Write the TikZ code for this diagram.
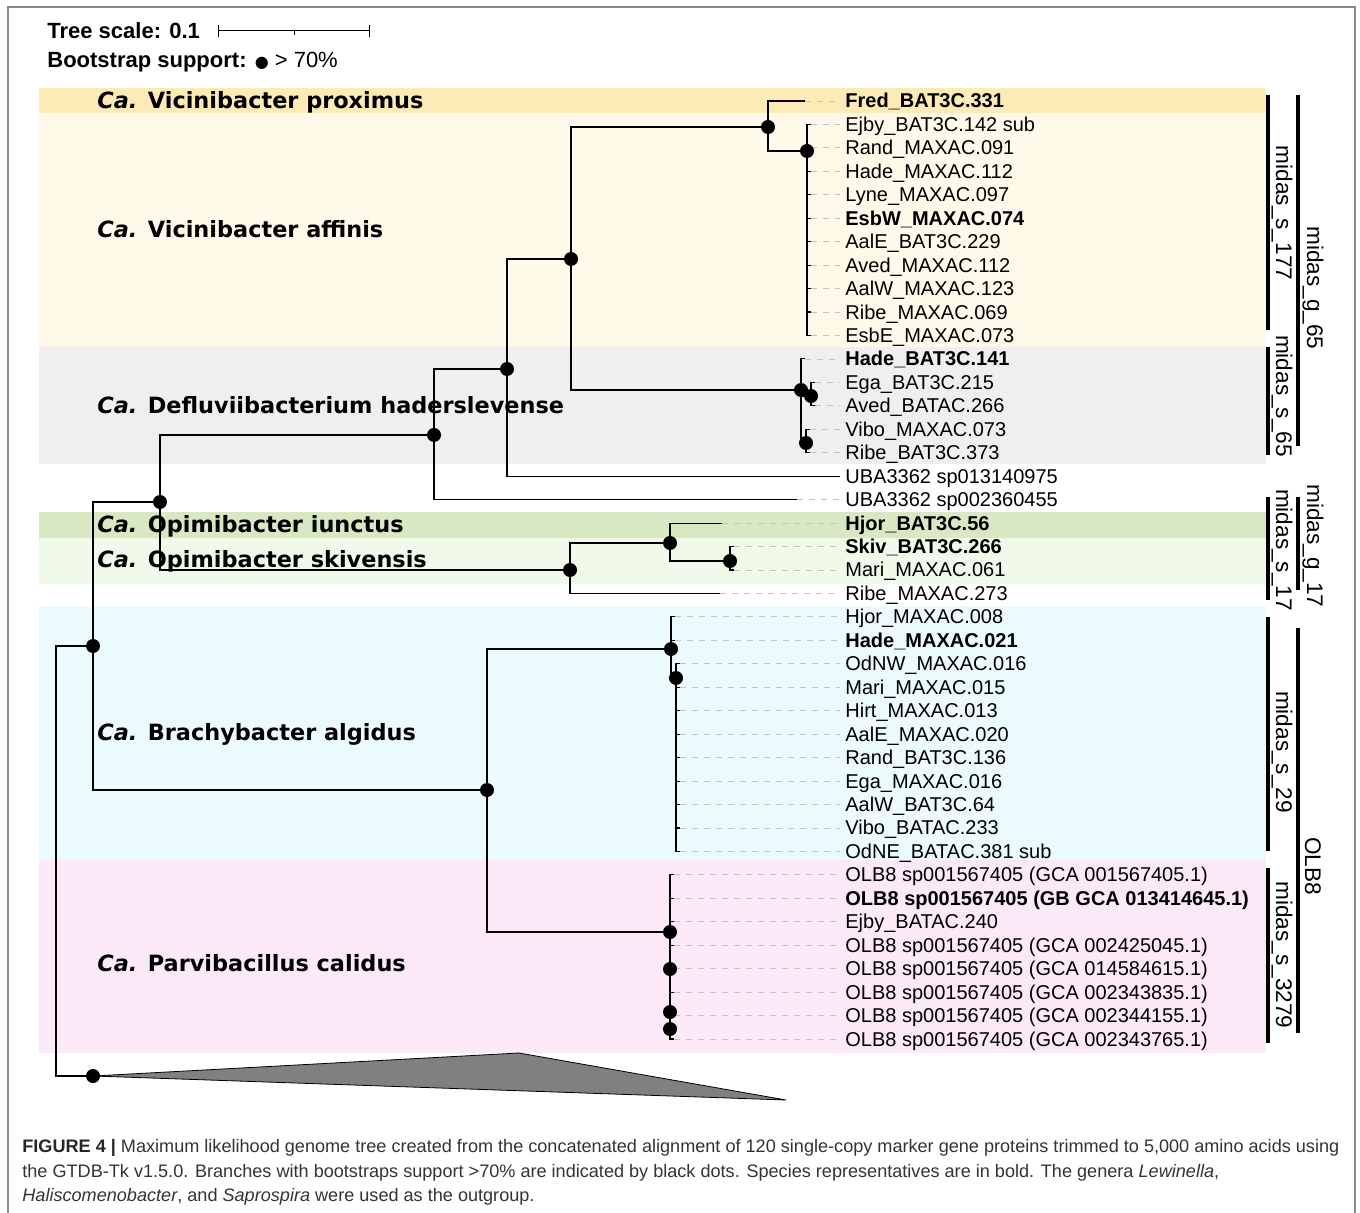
\documentclass[tikz,border=0pt]{standalone}
\usepackage{fontspec}
\setmainfont{Liberation Sans}
\newfontfamily\dejavu{DejaVu Sans}
\definecolor{cprox}{HTML}{FCEBB6}
\definecolor{caff}{HTML}{FEF9E8}
\definecolor{cdefl}{HTML}{EFEFEF}
\definecolor{ciunc}{HTML}{D7E8C2}
\definecolor{cskiv}{HTML}{F1FAE9}
\definecolor{cbrach}{HTML}{EBFAFD}
\definecolor{cparv}{HTML}{FCE9F7}
\definecolor{frameg}{HTML}{8A8A8A}
\definecolor{leadg}{HTML}{C4C4C4}
\definecolor{capg}{HTML}{333333}
\tikzset{
  band/.style={draw=none},
  branch/.style={draw=black, line width=0.55pt},
  leader/.style={draw=leadg, line width=0.4pt, dash pattern=on 3pt off 3pt},
  leaf/.style={anchor=base west, inner xsep=2.5pt, inner ysep=0pt, font=\fontsize{10}{12}\selectfont},
  clade/.style={anchor=base west, inner sep=0pt, font=\dejavu\bfseries\fontsize{11.2}{13}\selectfont},
  midas/.style={rotate=-90, inner sep=0pt, font=\fontsize{11.3}{13}\selectfont},
  gbar/.style={line width=1.6pt, draw=black},
  boot/.style={circle, fill=black, inner sep=0pt, minimum size=7pt},
  capline/.style={anchor=base west, inner sep=0pt, text=capg, font=\fontsize{9.05}{11}\selectfont},
}
\begin{document}
\begin{tikzpicture}[x=0.5pt, y=-0.5pt]
\useasboundingbox (0,0) rectangle (1360,1213);
% frame
\draw[frameg, line width=0.8pt] (8,1213) -- (8,7) -- (1355,7) -- (1355,1213);
% bands
\fill[cprox]  (39,88)  rectangle (1266,113);
\fill[caff]   (39,113) rectangle (1266,347);
\fill[cdefl]  (39,347) rectangle (1266,464);
\fill[ciunc]  (39,512) rectangle (1266,538);
\fill[cskiv]  (39,538) rectangle (1266,584);
\fill[cbrach] (39,606) rectangle (1266,860);
\fill[cparv]  (39,860) rectangle (1266,1053);
% header
\node[anchor=base west, inner sep=0pt, font=\bfseries\fontsize{11}{13}\selectfont] (ts) at (47,39) {Tree scale: 0.1};
\coordinate (sb1) at (218,31);
\coordinate (sb2) at (369,31);
\draw[line width=0.5pt] (sb1) -- (sb2);
\draw[line width=0.5pt] (218,25) -- (218,37) (369,25) -- (369,37) (294,31) -- (294,35);
\node[anchor=base west, inner sep=0pt, font=\fontsize{11}{13}\selectfont] (bs) at (47,68) {\textbf{Bootstrap support:} {\dejavu\fontsize{8}{13}\selectfont ●} {>} 70\%};
% clade labels
\node[clade] (c1) at (97,109) {\textit{Ca.} Vicinibacter proximus};
\node[clade] (c2) at (97,238) {\textit{Ca.} Vicinibacter affinis};
\node[clade] (c3) at (97,414) {\textit{Ca.} Defluviibacterium haderslevense};
\node[clade] (c4) at (97,533) {\textit{Ca.} Opimibacter iunctus};
\node[clade] (c5) at (97,568) {\textit{Ca.} Opimibacter skivensis};
\node[clade] (c6) at (97,740) {\textit{Ca.} Brachybacter algidus};
\node[clade] (c7) at (97,971) {\textit{Ca.} Parvibacillus calidus};
% leaves
\foreach \i/\tx/\t in {
 1/805/{\textbf{Fred\_BAT3C.331}},
 2/811/{Ejby\_BAT3C.142 sub},
 3/811/{Rand\_MAXAC.091},
 4/811/{Hade\_MAXAC.112},
 5/811/{Lyne\_MAXAC.097},
 6/811/{\textbf{EsbW\_MAXAC.074}},
 7/811/{AalE\_BAT3C.229},
 8/811/{Aved\_MAXAC.112},
 9/811/{AalW\_MAXAC.123},
 10/811/{Ribe\_MAXAC.069},
 11/811/{EsbE\_MAXAC.073},
 12/805/{\textbf{Hade\_BAT3C.141}},
 13/815/{Ega\_BAT3C.215},
 14/815/{Aved\_BATAC.266},
 15/810/{Vibo\_MAXAC.073},
 16/810/{Ribe\_BAT3C.373},
 17/840/{UBA3362 sp013140975},
 18/797/{UBA3362 sp002360455},
 19/722/{\textbf{Hjor\_BAT3C.56}},
 20/734/{\textbf{Skiv\_BAT3C.266}},
 21/734/{Mari\_MAXAC.061},
 22/720/{Ribe\_MAXAC.273},
 23/675/{Hjor\_MAXAC.008},
 24/675/{\textbf{Hade\_MAXAC.021}},
 25/680/{OdNW\_MAXAC.016},
 26/680/{Mari\_MAXAC.015},
 27/680/{Hirt\_MAXAC.013},
 28/680/{AalE\_MAXAC.020},
 29/680/{Rand\_BAT3C.136},
 30/680/{Ega\_MAXAC.016},
 31/680/{AalW\_BAT3C.64},
 32/680/{Vibo\_BATAC.233},
 33/680/{OdNE\_BATAC.381 sub},
 34/674/{OLB8 sp001567405 (GCA 001567405.1)},
 35/674/{\textbf{OLB8 sp001567405 (GB GCA 013414645.1)}},
 36/674/{Ejby\_BATAC.240},
 37/674/{OLB8 sp001567405 (GCA 002425045.1)},
 38/674/{OLB8 sp001567405 (GCA 014584615.1)},
 39/674/{OLB8 sp001567405 (GCA 002343835.1)},
 40/674/{OLB8 sp001567405 (GCA 002344155.1)},
 41/674/{OLB8 sp001567405 (GCA 002343765.1)}}{
  \pgfmathsetmacro{\yy}{101+(\i-1)*23.45}
  \coordinate (t\i) at (\tx,\yy);
  \node[leaf] (l\i) at (840,\yy+7) {\t};
  \draw[leader] (t\i) -- (t\i -| l\i.west);
}
% internal nodes
\coordinate (R)  at (56,861);
\coordinate (A)  at (93,646);
\coordinate (Out) at (93,1076);
\coordinate (B)  at (160,502);
\coordinate (C)  at (434,435);
\coordinate (D)  at (507,369);
\coordinate (E)  at (571,259);
\coordinate (F)  at (768,127);
\coordinate (G)  at (807,151);
\coordinate (H)  at (801,390);
\coordinate (H2) at (811,396);
\coordinate (H3) at (806,443);
\coordinate (I)  at (570,570);
\coordinate (J)  at (670,543);
\coordinate (K)  at (730,561);
\coordinate (L)  at (487,790);
\coordinate (M)  at (671,649);
\coordinate (N)  at (676,678);
\coordinate (O)  at (670,932);
\coordinate (O2) at (670,969);
\coordinate (O3) at (670,1012);
\coordinate (O4) at (670,1029);
\coordinate (tri1) at (519,1053);
\coordinate (tri2) at (786,1100);
% outgroup triangle
\filldraw[fill=black!50, draw=black, line width=0.4pt] (Out) -- (tri1) -- (tri2) -- cycle;
% branches
\draw[branch] (R) |- (A);
\draw[branch] (R) |- (Out);
\draw[branch] (A) |- (B);
\draw[branch] (A) |- (L);
\draw[branch] (B) |- (C);
\draw[branch] (B) |- (I);
\draw[branch] (C) |- (D);
\draw[branch] (C) |- (t18);
\draw[branch] (D) |- (E);
\draw[branch] (D) |- (t17);
\draw[branch] (E) |- (F);
\draw[branch] (E) |- (H);
\draw[branch] (F) |- (t1);
\draw[branch] (F) |- (G);
\foreach \k in {2,...,11} {\draw[branch] (G) |- (t\k);}
\draw[branch] (H) |- (t12);
\draw[branch] (H) |- (H2);
\draw[branch] (H) |- (H3);
\draw[branch] (H2) |- (t13);
\draw[branch] (H2) |- (t14);
\draw[branch] (H3) |- (t15);
\draw[branch] (H3) |- (t16);
\draw[branch] (I) |- (J);
\draw[branch] (I) |- (t22);
\draw[branch] (J) |- (t19);
\draw[branch] (J) |- (K);
\draw[branch] (K) |- (t20);
\draw[branch] (K) |- (t21);
\draw[branch] (L) |- (M);
\draw[branch] (L) |- (O);
\draw[branch] (M) |- (t23);
\draw[branch] (M) |- (t24);
\draw[branch] (M) |- (N);
\foreach \k in {25,...,33} {\draw[branch] (N) |- (t\k);}
\draw[branch] (O) |- (t34);
\draw[branch] (O) |- (t35);
\draw[branch] (O) |- (t36);
\draw[branch] (O) -- (O2);
\draw[branch] (O2) |- (t37);
\draw[branch] (O2) |- (t38);
\draw[branch] (O2) -- (O3);
\draw[branch] (O3) |- (t39);
\draw[branch] (O3) -- (O4);
\draw[branch] (O4) |- (t40);
\draw[branch] (O4) |- (t41);
% bootstrap dots
\foreach \p in {A,Out,B,C,D,E,F,G,H,H2,H3,I,J,K,L,M,N,O,O2,O3,O4} {\node[boot] (dot\p) at (\p) {};}
% group bars and labels
\coordinate (s177a) at (1268,95);   \coordinate (s177b) at (1268,330);
\coordinate (s65a)  at (1268,347);  \coordinate (s65b)  at (1268,455);
\coordinate (s17a)  at (1268,497);  \coordinate (s17b)  at (1268,600);
\coordinate (s29a)  at (1268,617);  \coordinate (s29b)  at (1268,851);
\coordinate (s3279a) at (1268,868); \coordinate (s3279b) at (1268,1043);
\coordinate (g65a)  at (1298,95);   \coordinate (g65b)  at (1298,446);
\coordinate (g17a)  at (1298,497);  \coordinate (g17b)  at (1298,590);
\coordinate (olba)  at (1298,628);  \coordinate (olbb)  at (1298,1033);
\draw[gbar] (s177a) -- (s177b);
\draw[gbar] (s65a) -- (s65b);
\draw[gbar] (s17a) -- (s17b);
\draw[gbar] (s29a) -- (s29b);
\draw[gbar] (s3279a) -- (s3279b);
\draw[gbar] (g65a) -- (g65b);
\draw[gbar] (g17a) -- (g17b);
\draw[gbar] (olba) -- (olbb);
\node[midas] (m1) at (1282,213) {midas\_s\_177};
\node[midas] (m2) at (1282,396) {midas\_s\_65};
\node[midas] (m3) at (1282,550) {midas\_s\_17};
\node[midas] (m4) at (1282,752) {midas\_s\_29};
\node[midas] (m5) at (1282,955) {midas\_s\_3279};
\node[midas] (m6) at (1313,288) {midas\_g\_65};
\node[midas] (m7) at (1313,546) {midas\_g\_17};
\node[midas] (m8) at (1313,866) {OLB8};
% caption
\node[capline] (cap1) at (22,1152) {\textbf{\color{black!85}FIGURE 4 |} Maximum likelihood genome tree created from the concatenated alignment of 120 single-copy marker gene proteins trimmed to 5,000 amino acids using};
\node[capline] (cap2) at (22,1177) {the GTDB-Tk v1.5.0. Branches with bootstraps support >70\% are indicated by black dots. Species representatives are in bold. The genera \textit{Lewinella},};
\node[capline] (cap3) at (22,1201) {\textit{Haliscomenobacter}, and \textit{Saprospira} were used as the outgroup.};
\end{tikzpicture}
\end{document}
